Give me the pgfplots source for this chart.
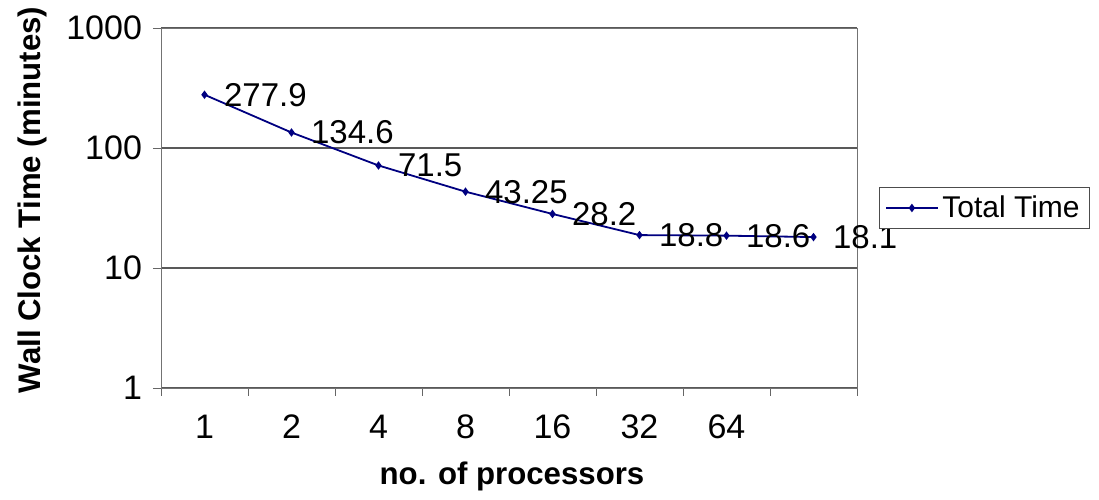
\documentclass[border=0pt]{standalone}
\usepackage{pgfplots}
\pgfplotsset{compat=1.18}
\usepackage{fontspec}
\setmainfont{Liberation Sans}
\definecolor{navyline}{RGB}{0,0,128}
\begin{document}
\begin{tikzpicture}
\begin{semilogyaxis}[
  scale only axis,
  width=348pt, height=180pt,
  xmin=0.5, xmax=8.5,
  ymin=1, ymax=1000,
  clip=false,
  font=\fontsize{14}{16}\selectfont,
  tick label style={font=\fontsize{17}{19}\selectfont},
  /pgf/number format/assume math mode=true,
  axis line style={draw=black!55},
  xtick={1,2,3,4,5,6,7},
  xticklabels={1,2,4,8,16,32,64},
  major x tick style={draw=none},
  minor xtick={0.5,1.5,2.5,3.5,4.5,5.5,6.5,7.5,8.5},
  minor x tick style={draw=black!60},
  minor tick length=4pt,
  ytick={1,10,100,1000},
  yticklabels={1,10,100,1000},
  yminorticks=false,
  major y tick style={draw=black!60},
  major tick length=4pt,
  tick align=outside,
  xtick pos=bottom, ytick pos=left,
  ymajorgrids,
  grid style={draw=black!65, line width=0.6pt},
  yticklabel style={xshift=-2pt},
  xticklabel style={yshift=-6pt},
  every axis x label/.style={at={(rel axis cs:0.5,0)}, yshift=-44pt, xshift=1.5pt, anchor=center, font=\fontsize{15.6}{18}\selectfont\bfseries},
  every axis y label/.style={at={(rel axis cs:0,0.5)}, xshift=-64.5pt, yshift=4pt, anchor=center, rotate=90, font=\fontsize{15.6}{18}\selectfont\bfseries},
  xlabel={no. of processors},
  ylabel={Wall Clock Time (minutes)},
  legend style={at={(rel axis cs:1,0.5)}, anchor=west, xshift=11pt, draw=black!70, inner xsep=3pt, inner ysep=2pt, font=\fontsize{15}{17}\selectfont},
  legend cell align=left,
  legend image code/.code={\draw[#1, mark repeat=2, mark phase=2] plot coordinates {(0cm,0cm)(0.45cm,0cm)(0.9cm,0cm)};},
  nodes near coords,
  point meta=explicit symbolic,
  every node near coord/.append style={anchor=west, xshift=6pt, yshift=0pt, text=black, font=\fontsize{16.5}{18}\selectfont},
]
\addplot[color=navyline, line width=0.9pt, mark=diamond*, mark size=1.4pt] coordinates {
  (1,277.9) [277.9]
  (2,134.6) [134.6]
  (3,71.5) [71.5]
  (4,43.25) [43.25]
  (5,28.2) [28.2]
  (6,18.8) [18.8]
  (7,18.6) [18.6]
  (8,18.1) [18.1]
};
\addlegendentry{Total Time}
\coordinate (ll) at (rel axis cs:0,0);
\coordinate (ur) at (rel axis cs:1,1);
\end{semilogyaxis}
\pgfresetboundingbox
\path[use as bounding box] ([shift={(-80.5pt,-56pt)}]ll) rectangle ([shift={(121pt,14pt)}]ur);
\end{tikzpicture}
\end{document}
